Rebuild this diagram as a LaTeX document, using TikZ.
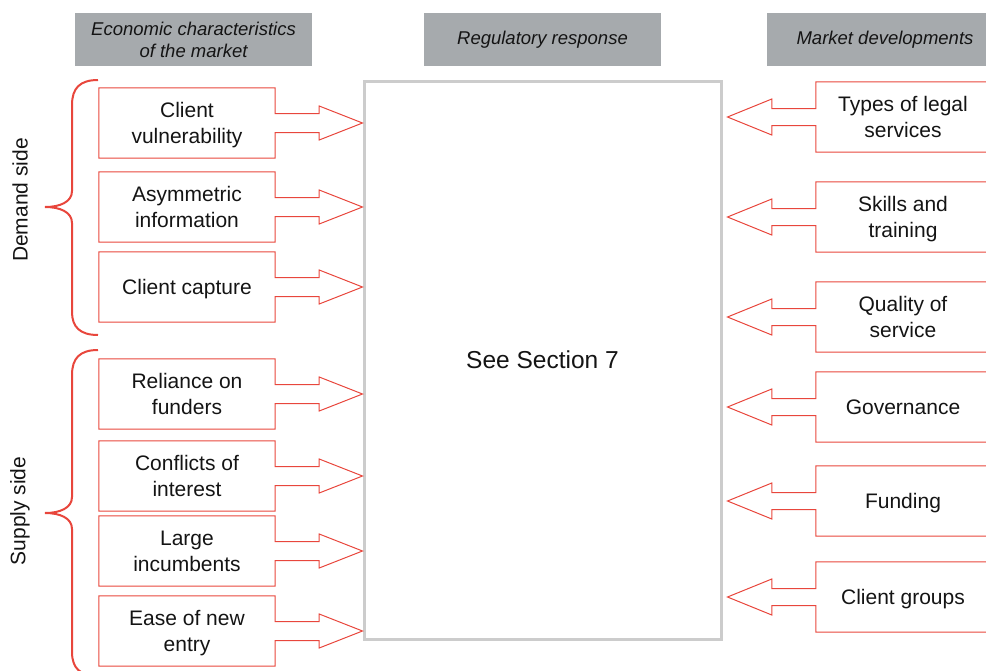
\documentclass[tikz,border=0pt]{standalone}
\usepackage{fontspec}
\setmainfont{Liberation Sans}
\usetikzlibrary{calc}
\definecolor{boxred}{RGB}{232,70,60}
\definecolor{headgray}{RGB}{166,170,173}
\definecolor{framegray}{RGB}{204,204,204}
\definecolor{inkblack}{RGB}{20,20,20}

\begin{document}
\begin{tikzpicture}[x=1pt,y=-1pt,
  header/.style={fill=headgray, minimum width=237, minimum height=53, inner sep=0pt,
    align=center, text=inkblack, font=\fontsize{18.5}{22}\selectfont\itshape},
  item/.style={minimum height=70, inner sep=0pt, align=center, text=inkblack,
    text depth=0pt, font=\fontsize{21}{26}\selectfont},
  leftitem/.style={item, minimum width=176},
  rightitem/.style={item, minimum width=174},
  outline/.style={draw=boxred, line width=1pt, line join=miter},
  bracepath/.style={draw=boxred, line width=2pt},
  sidelabel/.style={rotate=90, text=inkblack, font=\fontsize{21}{26}\selectfont},
]
\useasboundingbox (0,0) rectangle (986,670);
\clip (0,0) rectangle (986,670);

% column headers
\node[header] (hecon) at (193.5,39.5) {Economic characteristics\\of the market};
\node[header] (hreg)  at (542.5,39.5) {Regulatory response};
\node[header] (hmkt)  at (885,39.5)   {Market developments};

% central frame
\node[draw=framegray, line width=3pt, minimum width=357, minimum height=558, inner sep=0pt,
  text=inkblack, font=\fontsize{24.5}{29}\selectfont] (main) at (542.5,360) {See Section 7};

% economic characteristics (left column)
\node[leftitem] (l1) at (187,123) {Client\\vulnerability};
\node[leftitem] (l2) at (187,207) {Asymmetric\\information};
\node[leftitem] (l3) at (187,287) {Client capture};
\node[leftitem] (l4) at (187,394) {Reliance on\\funders};
\node[leftitem] (l5) at (187,476) {Conflicts of\\interest};
\node[leftitem] (l6) at (187,551) {Large\\incumbents};
\node[leftitem] (l7) at (187,631) {Ease of new\\entry};

% market developments (right column)
\node[rightitem] (r1) at (903,117) {Types of legal\\services};
\node[rightitem] (r2) at (903,217) {Skills and\\training};
\node[rightitem] (r3) at (903,317) {Quality of\\service};
\node[rightitem] (r4) at (903,407) {Governance};
\node[rightitem] (r5) at (903,501) {Funding};
\node[rightitem] (r6) at (903,597) {Client groups};

% box-and-arrow outlines pointing into the frame
\foreach \n in {l1,l2,l3,l4,l5,l6,l7}{
  \draw[outline] (\n.north west) -- (\n.north east)
    -- ($(\n.east)+(0,-9.5)$) -- ($(\n.east)+(44,-9.5)$) -- ($(\n.east)+(44,-17)$)
    -- (\n.east -| main.west)
    -- ($(\n.east)+(44,17)$) -- ($(\n.east)+(44,9.5)$) -- ($(\n.east)+(0,9.5)$)
    -- (\n.south east) -- (\n.south west) -- cycle;
}
\foreach \n in {r1,r2,r3,r4,r5,r6}{
  \draw[outline] (\n.north east) -- (\n.north west)
    -- ($(\n.west)+(0,-8.5)$) -- ($(\n.west)+(-44,-8.5)$) -- ($(\n.west)+(-44,-18)$)
    -- ([xshift=5pt]\n.west -| main.east)
    -- ($(\n.west)+(-44,18)$) -- ($(\n.west)+(-44,8.5)$) -- ($(\n.west)+(0,8.5)$)
    -- (\n.south west) -- (\n.south east);
}

% braces grouping the left column
\draw[bracepath] (98,80) .. controls (80,80) and (72,88) .. (72,105) -- (72,191)
  .. controls (72,202) and (60,207) .. (45,207)
  .. controls (60,207) and (72,212) .. (72,223) -- (72,312)
  .. controls (72,327) and (80,335) .. (98,335);
\draw[bracepath] (98,350) .. controls (80,350) and (72,358) .. (72,375) -- (72,497)
  .. controls (72,508) and (60,513) .. (45,513)
  .. controls (60,513) and (72,518) .. (72,529) -- (72,652)
  .. controls (72,668) and (80,676) .. (98,676);

\node[sidelabel] (demand) at (20,200) {Demand side};
\node[sidelabel] (supply) at (20,511) {Supply side};
\end{tikzpicture}
\end{document}
